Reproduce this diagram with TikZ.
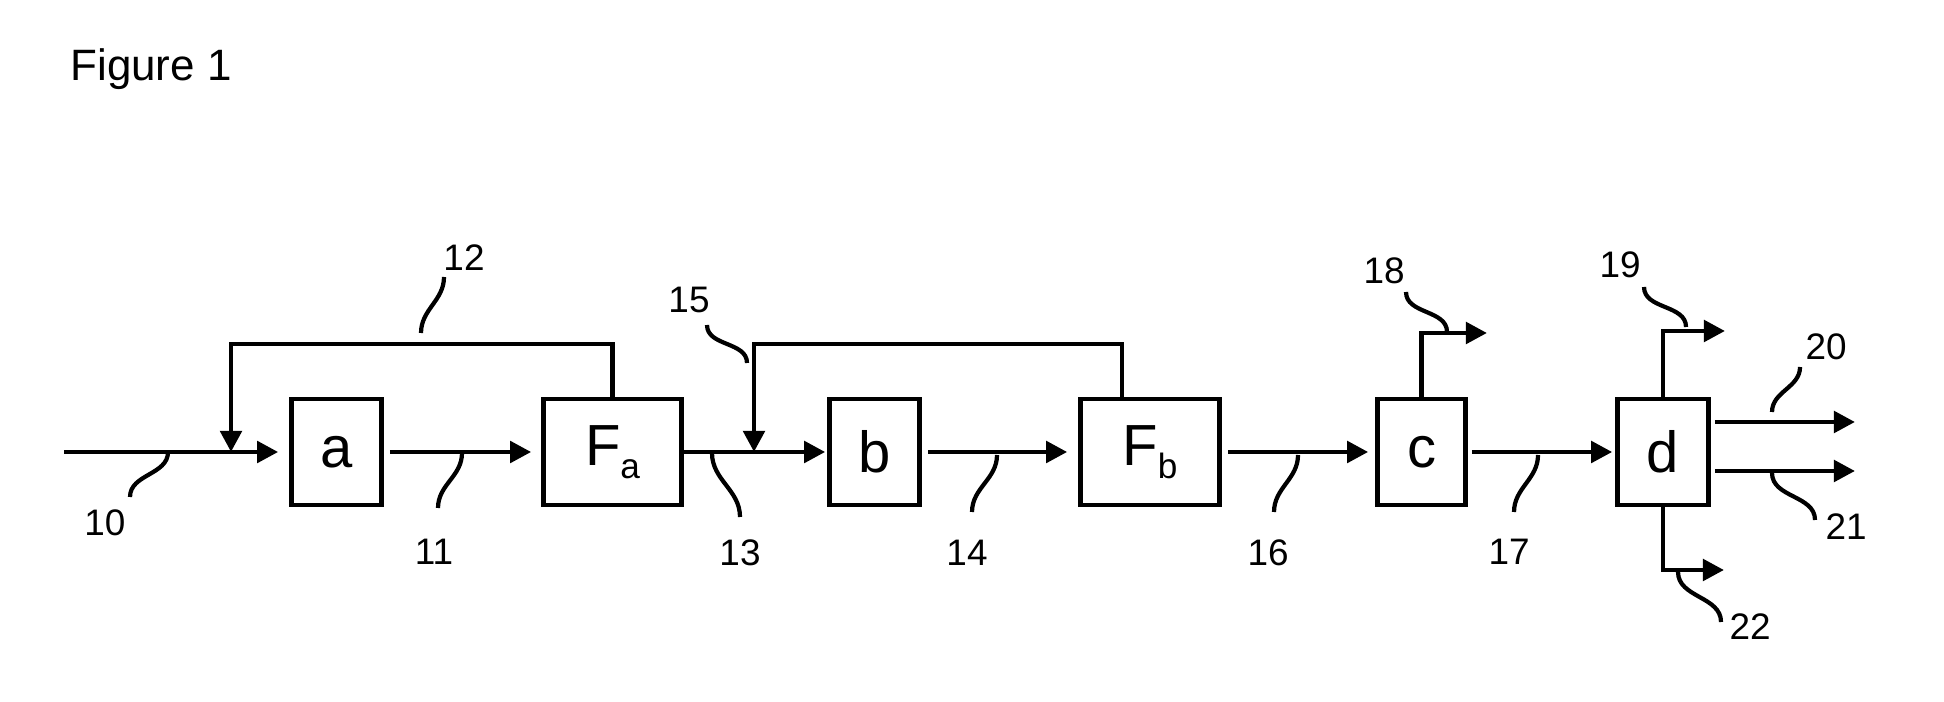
\documentclass[tikz,border=0pt]{standalone}
\usepackage{fontspec}
\setmainfont{Liberation Sans}
\usetikzlibrary{arrows.meta}
\newcommand{\lowsub}[1]{\raisebox{-0.22em}{\fontsize{10}{10}\selectfont #1}}
\begin{document}
\begin{tikzpicture}[
    box/.style={draw, line width=1.3pt, inner sep=0pt, minimum height=1.06cm, font=\fontsize{16.5}{18}\selectfont},
    flow/.style={line width=1.4pt, -{Triangle[length=6pt,width=6pt]}},
    lead/.style={line width=1.2pt},
    num/.style={inner sep=0pt, font=\fontsize{10.5}{12}\selectfont}]
    \useasboundingbox (0,0) rectangle (19.44,7.02);
    \node[anchor=base west, font=\fontsize{12.5}{14}\selectfont] (fig) at (0.58,6.21) {Figure 1};
    % units
    \node[box, minimum width=0.90cm] (a) at (3.365,2.50) {a};
    \node[box, minimum width=1.38cm] (Fa) at (6.125,2.50) {F\lowsub{a}};
    \node[box, minimum width=0.90cm] (b) at (8.745,2.50) {b};
    \node[box, minimum width=1.39cm] (Fb) at (11.50,2.50) {F\lowsub{b}};
    \node[box, minimum width=0.88cm] (c) at (14.215,2.50) {c};
    \node[box, minimum width=0.91cm] (d) at (16.63,2.50) {d};
    % main streams
    \coordinate (feed) at (0.64,2.50);
    \draw[flow, shorten >=0.11cm] (feed) -- (a.west);
    \draw[flow, shorten <=0.06cm, shorten >=0.10cm] (a.east) -- (Fa.west);
    \draw[flow, shorten >=0.02cm] (Fa.east) -- (b.west);
    \draw[flow, shorten <=0.06cm, shorten >=0.11cm] (b.east) -- (Fb.west);
    \draw[flow, shorten <=0.06cm, shorten >=0.07cm] (Fb.east) -- (c.west);
    \draw[flow, shorten <=0.04cm, shorten >=0.03cm] (c.east) -- (d.west);
    % recycles
    \coordinate (top12) at (2.31,3.58);
    \coordinate (join12) at (2.31,2.50);
    \draw[flow] (Fa.north) |- (top12) -- (join12);
    \coordinate (top15) at (7.54,3.58);
    \coordinate (join15) at (7.54,2.50);
    \draw[flow] ([xshift=-0.28cm]Fb.north) |- (top15) -- (join15);
    % products
    \coordinate (out18) at (14.87,3.69);
    \draw[flow] (c.north) |- (out18);
    \coordinate (out19) at (17.25,3.71);
    \draw[flow] (d.north) |- (out19);
    \coordinate (out20) at (18.55,2.80);
    \draw[flow, shorten <=0.04cm] (d.east |- out20) -- (out20);
    \coordinate (out21) at (18.55,2.31);
    \draw[flow, shorten <=0.04cm] (d.east |- out21) -- (out21);
    \coordinate (out22) at (17.24,1.32);
    \draw[flow] (d.south) |- (out22);
    % reference numerals
    \node[num] (n10) at (1.05,1.79) {10};
    \coordinate (s10) at (1.68,2.50); \coordinate (e10) at (1.30,2.05);
    \draw[lead] (s10) to[out=-90,in=90] (e10);
    \node[num] (n11) at (4.34,1.50) {11};
    \coordinate (s11) at (4.62,2.49); \coordinate (e11) at (4.38,1.94);
    \draw[lead] (s11) to[out=-90,in=90] (e11);
    \node[num] (n12) at (4.64,4.44) {12};
    \coordinate (s12) at (4.44,4.25); \coordinate (e12) at (4.21,3.69);
    \draw[lead] (s12) to[out=-90,in=90] (e12);
    \node[num] (n13) at (7.40,1.49) {13};
    \coordinate (s13) at (7.12,2.49); \coordinate (e13) at (7.40,1.85);
    \draw[lead] (s13) to[out=-90,in=90] (e13);
    \node[num] (n14) at (9.67,1.49) {14};
    \coordinate (s14) at (9.97,2.47); \coordinate (e14) at (9.72,1.90);
    \draw[lead] (s14) to[out=-90,in=90] (e14);
    \node[num] (n15) at (6.89,4.02) {15};
    \coordinate (s15) at (7.07,3.77); \coordinate (e15) at (7.47,3.39);
    \draw[lead] (s15) to[out=-90,in=90] (e15);
    \node[num] (n16) at (12.68,1.49) {16};
    \coordinate (s16) at (12.98,2.47); \coordinate (e16) at (12.74,1.90);
    \draw[lead] (s16) to[out=-90,in=90] (e16);
    \node[num] (n17) at (15.09,1.50) {17};
    \coordinate (s17) at (15.38,2.47); \coordinate (e17) at (15.14,1.90);
    \draw[lead] (s17) to[out=-90,in=90] (e17);
    \node[num] (n18) at (13.84,4.31) {18};
    \coordinate (s18) at (14.06,4.10); \coordinate (e18) at (14.47,3.70);
    \draw[lead] (s18) to[out=-90,in=90] (e18);
    \node[num] (n19) at (16.20,4.37) {19};
    \coordinate (s19) at (16.44,4.15); \coordinate (e19) at (16.86,3.75);
    \draw[lead] (s19) to[out=-90,in=90] (e19);
    \node[num] (n20) at (18.26,3.55) {20};
    \coordinate (s20) at (18.00,3.35); \coordinate (e20) at (17.72,2.90);
    \draw[lead] (s20) to[out=-90,in=90] (e20);
    \node[num] (n21) at (18.46,1.75) {21};
    \coordinate (s21) at (17.72,2.29); \coordinate (e21) at (18.15,1.82);
    \draw[lead] (s21) to[out=-90,in=90] (e21);
    \node[num] (n22) at (17.50,0.75) {22};
    \coordinate (s22) at (16.78,1.30); \coordinate (e22) at (17.21,0.80);
    \draw[lead] (s22) to[out=-90,in=90] (e22);
\end{tikzpicture}
\end{document}
